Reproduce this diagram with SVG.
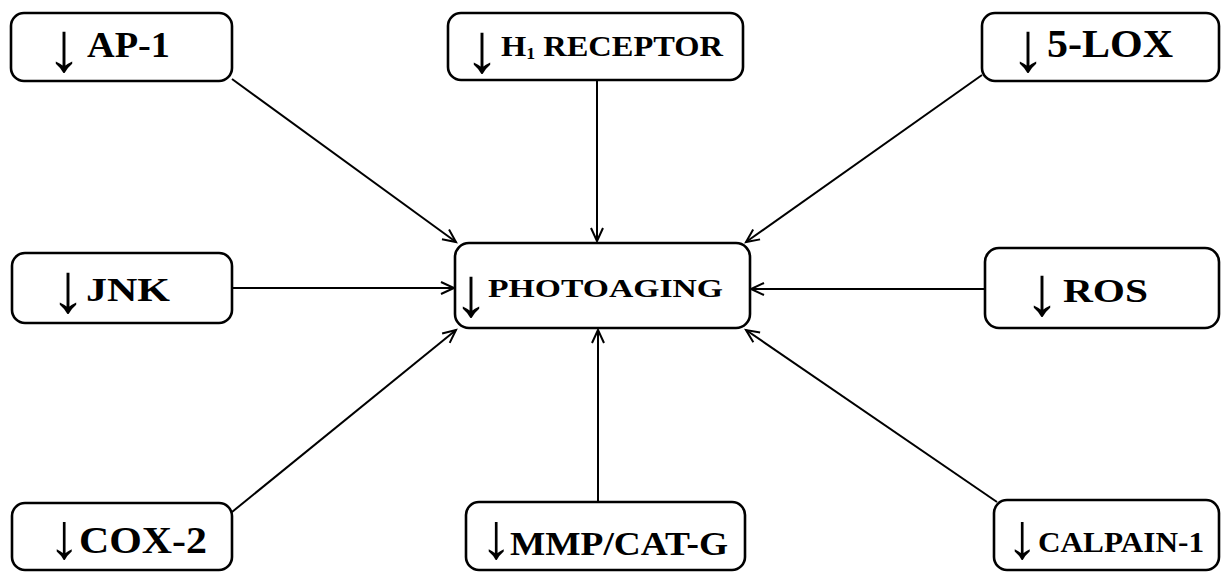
<svg xmlns="http://www.w3.org/2000/svg" width="1221" height="572" viewBox="0 0 1221 572">
<style>
.box{fill:#fff;stroke:#000;stroke-width:2.6}
.lbl{font-family:"Liberation Serif","Times New Roman",serif;font-weight:bold;fill:#000}
.dn{font-family:"Liberation Serif","Times New Roman",serif;font-weight:normal;font-size:70px;fill:#000;text-anchor:middle}
.dnb{font-size:64px}
.edge{fill:none;stroke:#000;stroke-width:2;marker-end:url(#ah)}
</style>
<defs>
<marker id="ah" markerUnits="userSpaceOnUse" markerWidth="20" markerHeight="20" refX="0" refY="0" viewBox="-15 -10 20 20" orient="auto">
<path d="M-13,-6 L0,0 L-13,6" fill="none" stroke="#000" stroke-width="2"/>
</marker>
</defs>
<rect width="1221" height="572" fill="#fff"/>
<g id="connectors">
<path class="edge" d="M232,79 L456,242"/>
<path class="edge" d="M597,80 L597,241"/>
<path class="edge" d="M982,75 L746,242"/>
<path class="edge" d="M232,288 L454,288"/>
<path class="edge" d="M985,289 L751,289"/>
<path class="edge" d="M232,512 L456,330"/>
<path class="edge" d="M598,502 L598,330"/>
<path class="edge" d="M997,502 L746,330"/>
</g>
<g id="ap1">
<rect class="box" x="11" y="13" width="221" height="68" rx="13"/>
<text class="dn" x="64" y="71">↓</text>
<text class="lbl" x="87" y="57" font-size="36" textLength="83" lengthAdjust="spacingAndGlyphs">AP-1</text>
</g>
<g id="h1">
<rect class="box" x="448" y="13" width="295" height="67" rx="13"/>
<text class="dn" x="482" y="72">↓</text>
<text class="lbl" x="501" y="56" font-size="29" textLength="222" lengthAdjust="spacingAndGlyphs">H<tspan font-size="16" dy="3">1</tspan><tspan dy="-3"> RECEPTOR</tspan></text>
</g>
<g id="lox5">
<rect class="box" x="982" y="13" width="237" height="68" rx="13"/>
<text class="dn" x="1028" y="71">↓</text>
<text class="lbl" x="1047" y="57" font-size="40" textLength="126" lengthAdjust="spacingAndGlyphs">5-LOX</text>
</g>
<g id="jnk">
<rect class="box" x="12" y="253" width="220" height="70" rx="13"/>
<text class="dn" x="68" y="312">↓</text>
<text class="lbl" x="86" y="301" font-size="34" textLength="84" lengthAdjust="spacingAndGlyphs">JNK</text>
</g>
<g id="photoaging">
<rect class="box" x="455" y="243" width="295" height="85" rx="14"/>
<text class="dn" x="471" y="316">↓</text>
<text class="lbl" x="488" y="297" font-size="26" textLength="235" lengthAdjust="spacingAndGlyphs">PHOTOAGING</text>
</g>
<g id="ros">
<rect class="box" x="985" y="248" width="234" height="80" rx="14"/>
<text class="dn" x="1042" y="315">↓</text>
<text class="lbl" x="1063" y="302" font-size="33" textLength="85" lengthAdjust="spacingAndGlyphs">ROS</text>
</g>
<g id="cox2">
<rect class="box" x="12" y="503" width="220" height="67" rx="13"/>
<text class="dn dnb" x="64" y="558">↓</text>
<text class="lbl" x="79" y="553" font-size="38" textLength="128" lengthAdjust="spacingAndGlyphs">COX-2</text>
</g>
<g id="mmp">
<rect class="box" x="466" y="502" width="279" height="68" rx="13"/>
<text class="dn dnb" x="496" y="558">↓</text>
<text class="lbl" x="510" y="555" font-size="34" textLength="218" lengthAdjust="spacingAndGlyphs">MMP/CAT-G</text>
</g>
<g id="calpain">
<rect class="box" x="994" y="500" width="225" height="70" rx="13"/>
<text class="dn dnb" x="1022" y="558">↓</text>
<text class="lbl" x="1038" y="552" font-size="29" textLength="166" lengthAdjust="spacingAndGlyphs">CALPAIN-1</text>
</g>
</svg>
